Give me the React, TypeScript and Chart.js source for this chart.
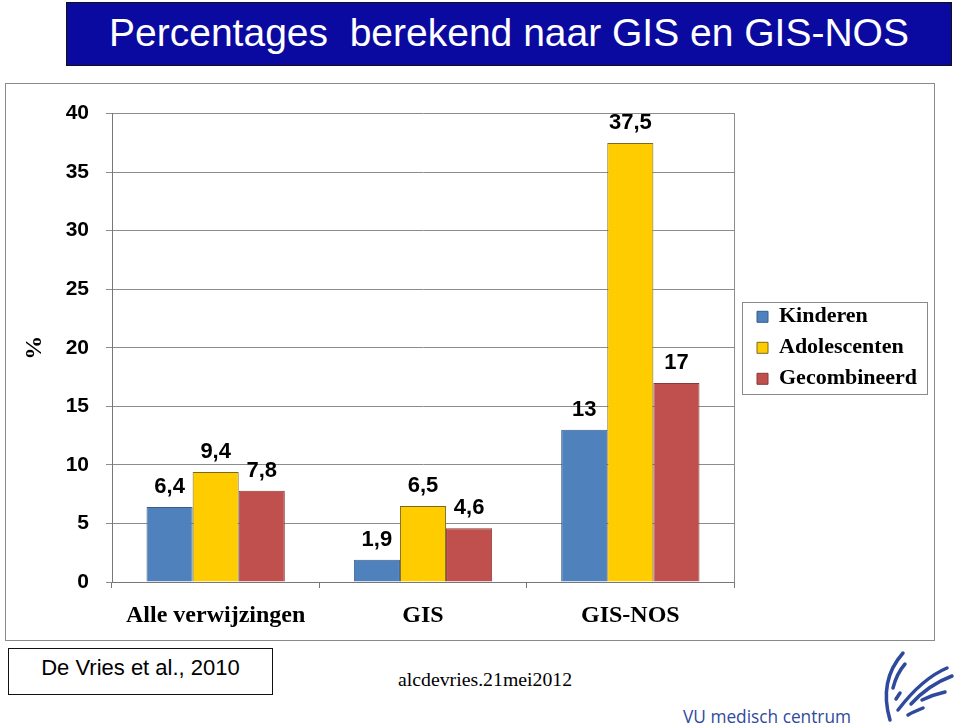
import React, { useEffect, useRef } from "react";
import { Chart, registerables } from "chart.js";

Chart.register(...registerables);

const categories = ["Alle verwijzingen", "GIS", "GIS-NOS"];
const kinderen = [6.4, 1.9, 13];
const adolescenten = [9.4, 6.5, 37.5];
const gecombineerd = [7.8, 4.6, 17];
const seriesNames = ["Kinderen", "Adolescenten", "Gecombineerd"];
const yMin = 0;
const yMax = 40;
const yStep = 5;

const SANS = "'Liberation Sans', Arial, sans-serif";
const SERIF = "'Liberation Serif', 'Times New Roman', serif";
const LEGEND_W = 186;

const fmt = (v: number) => String(v).replace(".", ",");

const dataLabelPlugin = {
  id: "dataLabels",
  afterDatasetsDraw(chart: any) {
    const ctx = chart.ctx;
    ctx.save();
    ctx.font = `bold 22px ${SANS}`;
    ctx.fillStyle = "#000";
    ctx.textAlign = "center";
    ctx.textBaseline = "middle";
    chart.data.datasets.forEach((ds: any, i: number) => {
      const meta = chart.getDatasetMeta(i);
      meta.data.forEach((el: any, j: number) => {
        ctx.fillText(fmt(ds.data[j]), el.x, el.y - 20);
      });
    });
    ctx.restore();
  },
};

const legendWidthPlugin = {
  id: "legendWidth",
  beforeLayout(chart: any) {
    const lg = chart.legend;
    if (lg && !lg.__patched) {
      const orig = lg.fit.bind(lg);
      lg.fit = function () {
        orig();
        this.width = LEGEND_W;
      };
      lg.__patched = true;
    }
  },
};

const legendBoxPlugin = {
  id: "legendBox",
  afterDraw(chart: any) {
    const lg = chart.legend;
    if (!lg || !lg.legendHitBoxes || !lg.legendHitBoxes.length) return;
    const boxes = lg.legendHitBoxes;
    const top = boxes[0].top;
    const bottom = boxes[boxes.length - 1].top + boxes[boxes.length - 1].height;
    const mid = (top + bottom) / 2;
    const ctx = chart.ctx;
    ctx.save();
    ctx.strokeStyle = "#8a8a8a";
    ctx.lineWidth = 1;
    ctx.strokeRect(lg.left - 6 + 0.5, Math.round(mid - 46) + 0.5, 185, 92);
    ctx.restore();
  },
};

function BarChart() {
  const ref = useRef<HTMLCanvasElement | null>(null);
  useEffect(() => {
    if (!ref.current) return;
    const chart = new Chart(ref.current, {
      type: "bar",
      data: {
        labels: categories,
        datasets: [
          {
            label: seriesNames[0],
            data: kinderen,
            backgroundColor: "#4F81BD",
            borderColor: "#385D8A",
            borderWidth: 1,
          },
          {
            label: seriesNames[1],
            data: adolescenten,
            backgroundColor: "#FFCC00",
            borderColor: "#7A6A20",
            borderWidth: 1,
          },
          {
            label: seriesNames[2],
            data: gecombineerd,
            backgroundColor: "#C0504D",
            borderColor: "#8C3836",
            borderWidth: 1,
          },
        ],
      },
      options: {
        animation: false,
        responsive: false,
        maintainAspectRatio: false,
        devicePixelRatio: 1,
        datasets: { bar: { categoryPercentage: 0.667, barPercentage: 1 } },
        layout: { padding: { top: 28, left: 0, right: 0, bottom: 0 } },
        plugins: {
          tooltip: { enabled: false },
          legend: {
            display: true,
            position: "right",
            align: "center",
            fullSize: false,
            labels: {
              boxWidth: 11,
              boxHeight: 11,
              padding: 9,
              color: "#000",
              font: { family: SERIF, size: 22, weight: "bold" },
            },
          },
        },
        scales: {
          x: {
            type: "category",
            grid: {
              display: true,
              drawOnChartArea: false,
              drawTicks: true,
              tickLength: 6,
              color: "#777",
              offset: true,
            },
            border: { display: true, color: "#777" },
            ticks: {
              color: "#000",
              padding: 13,
              font: { family: SERIF, size: 24, weight: "bold" },
            },
            afterFit: (s: any) => {
              s.height = 58;
            },
          },
          y: {
            type: "linear",
            min: yMin,
            max: yMax,
            ticks: {
              stepSize: yStep,
              color: "#000",
              padding: 17,
              font: { family: SANS, size: 21, weight: "bold" },
            },
            grid: {
              color: "#8c8c8c",
              tickLength: 6,
              drawTicks: true,
            },
            border: { display: true, color: "#777" },
            title: {
              display: true,
              text: "%",
              color: "#000",
              font: { family: SERIF, size: 24, weight: "bold" },
              padding: { top: 14, bottom: 0 },
            },
            afterFit: (s: any) => {
              s.width = 106;
            },
          },
          y2: {
            type: "linear",
            position: "right",
            min: yMin,
            max: yMax,
            display: true,
            ticks: { display: false },
            grid: { display: true, drawOnChartArea: false, drawTicks: false },
            border: { display: true, color: "#8c8c8c" },
            afterFit: (s: any) => {
              s.width = 14;
            },
          },
        },
      },
      plugins: [dataLabelPlugin, legendWidthPlugin, legendBoxPlugin],
    } as any);
    return () => chart.destroy();
  }, []);
  return <canvas ref={ref} width={928} height={556} style={{ display: "block", width: 928, height: 556 }} />;
}

function Logo() {
  const c = "#2f4a9c";
  return (
    <svg width={84} height={80} viewBox="0 0 84 80" style={{ position: "absolute", left: 876, top: 648 }}>
      <g fill="none" stroke={c} strokeWidth={3.5} strokeLinecap="round">
        <path d="M27 5 C 12 22, 6 45, 14 72" />
        <path d="M29 16 C 22 24, 19 32, 17 40" />
        <path d="M24 45 L 20 51" />
        <path d="M71 20 C 52 28, 35 45, 22 62" />
        <path d="M76 28 C 60 34, 45 45, 35 56" />
        <path d="M69 44 C 60 46, 52 49, 46 52" />
        <path d="M47 60 C 42 62, 37 64, 32 67" />
      </g>
    </svg>
  );
}

export default function App() {
  return (
    <div
      style={{
        position: "absolute",
        left: 0,
        top: 0,
        width: 960,
        height: 728,
        background: "#fff",
        overflow: "hidden",
      }}
    >
      <div
        style={{
          position: "absolute",
          left: 66,
          top: 2,
          width: 884,
          height: 62,
          background: "#0a0aa0",
          border: "1px solid #111",
          color: "#fff",
          fontFamily: SANS,
          fontSize: 39,
          lineHeight: "60px",
          textAlign: "center",
          whiteSpace: "pre",
        }}
      >
        {"Percentages  berekend naar GIS en GIS-NOS"}
      </div>
      <div
        style={{
          position: "absolute",
          left: 5,
          top: 83,
          width: 928,
          height: 556,
          border: "1px solid #8a8a8a",
        }}
      >
        <BarChart />
      </div>
      <div
        style={{
          position: "absolute",
          left: 8,
          top: 648,
          width: 263,
          height: 45,
          border: "1px solid #111",
          fontFamily: SANS,
          fontSize: 22,
          lineHeight: "38px",
          textAlign: "center",
          color: "#000",
        }}
      >
        De Vries et al., 2010
      </div>
      <div
        style={{
          position: "absolute",
          left: 398,
          top: 667,
          fontFamily: SERIF,
          fontSize: 19.8,
          lineHeight: "24px",
          color: "#000",
          whiteSpace: "nowrap",
        }}
      >
        alcdevries.21mei2012
      </div>
      <div
        style={{
          position: "absolute",
          left: 683,
          top: 705,
          fontFamily: "'Open Sans', 'Noto Sans', sans-serif",
          fontSize: 17.3,
          lineHeight: "24px",
          color: "#2f4a9c",
          whiteSpace: "nowrap",
        }}
      >
        VU medisch centrum
      </div>
      <Logo />
    </div>
  );
}
